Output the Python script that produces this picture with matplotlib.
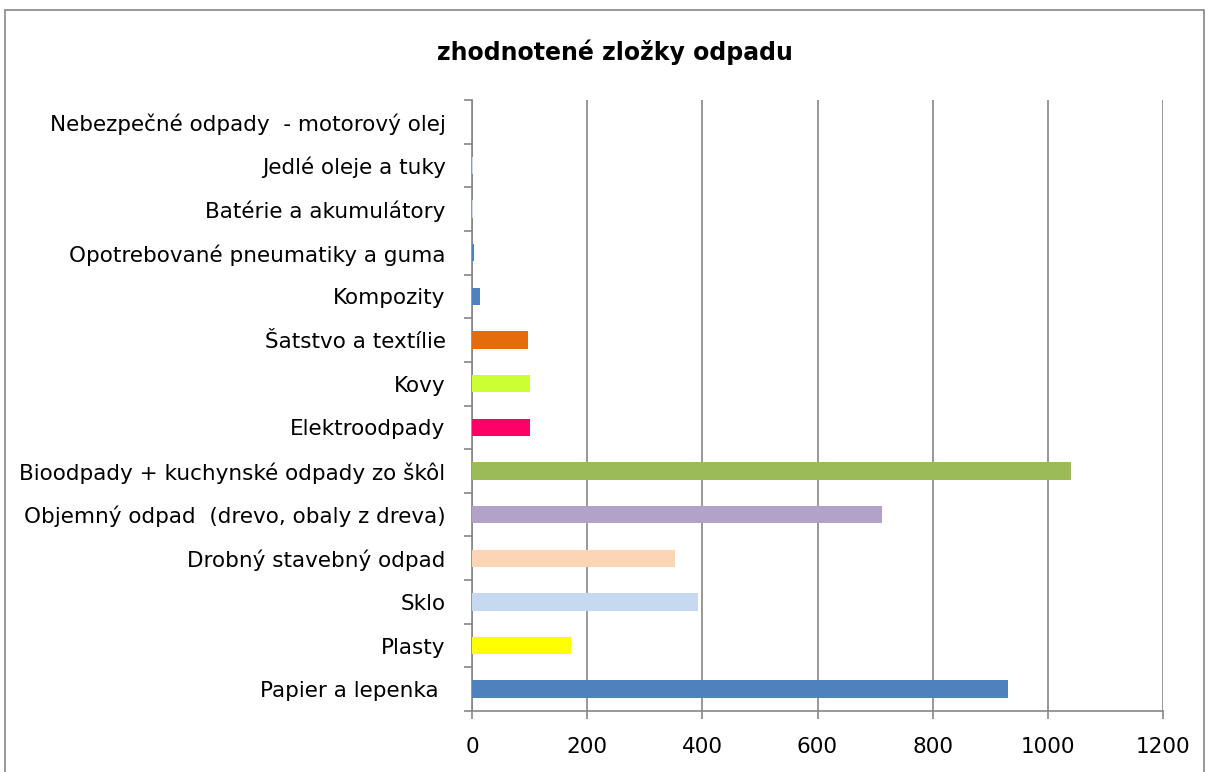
import matplotlib
matplotlib.use("Agg")
import matplotlib.pyplot as plt
from matplotlib.patches import Rectangle

categories = [
    "Papier a lepenka ",
    "Plasty",
    "Sklo",
    "Drobný stavebný odpad",
    "Objemný odpad  (drevo, obaly z dreva)",
    "Bioodpady + kuchynské odpady zo škôl",
    "Elektroodpady",
    "Kovy",
    "Šatstvo a textílie",
    "Kompozity",
    "Opotrebované pneumatiky a guma",
    "Batérie a akumulátory",
    "Jedlé oleje a tuky",
    "Nebezpečné odpady  - motorový olej",
]
values = [930, 172, 392, 352, 712, 1040, 100, 100, 97, 14, 4, 1, 2, 0]
colors = ["#4F81BD", "#FFFF00", "#C6D9F1", "#FCD5B5", "#B3A2C7", "#9BBB59",
          "#FF0066", "#CCFF33", "#E46C0A", "#4F81BD", "#4F81BD", "#C6D9F1",
          "#C6D9F1", "#4F81BD"]
xticks = [0, 200, 400, 600, 800, 1000, 1200]
title = "zhodnotené zložky odpadu"

plt.rcParams['font.family'] = ['DejaVu Sans']
W, H = 1209, 772
fig = plt.figure(figsize=(W/100, H/100), dpi=100)
fig.patches.append(Rectangle((5/W, -0.1), 1199/W, 1 - 10/H + 0.1, transform=fig.transFigure,
                             fill=False, edgecolor="#868686", linewidth=1.2))
ax = fig.add_axes([472/W, 1 - 711/H, (1163-472)/W, (711-100)/H])
gray = "#868686"
ypos = list(range(len(categories)))
ax.barh(ypos, values, height=0.4, color=colors, zorder=3)
ax.set_ylim(-0.5, len(categories) - 0.5)
ax.set_xlim(0, 1200)
ax.set_xticks(xticks)
ax.set_xticklabels([str(t) for t in xticks], fontsize=15.5)
ax.set_yticks([i - 0.5 for i in range(len(categories) + 1)], minor=False)
ax.set_yticklabels([])
ax.set_yticks(ypos, minor=True)
ax.set_yticklabels(categories, minor=True, fontsize=15.5)
ax.tick_params(axis='y', which='minor', length=0, pad=19)
ax.tick_params(axis='y', which='major', length=6, color=gray, width=1.2)
ax.tick_params(axis='x', length=6, color=gray, width=1.2, pad=13)
ax.grid(axis='x', color=gray, linewidth=1.2, zorder=0)
for s in ['top', 'right']:
    ax.spines[s].set_visible(False)
for s in ['left', 'bottom']:
    ax.spines[s].set_color(gray)
    ax.spines[s].set_linewidth(1.2)
fig.text(615/W, 1 - 52/H, title, ha='center', va='center', fontsize=17, fontweight='bold')
fig.savefig("out.png", dpi=100)
